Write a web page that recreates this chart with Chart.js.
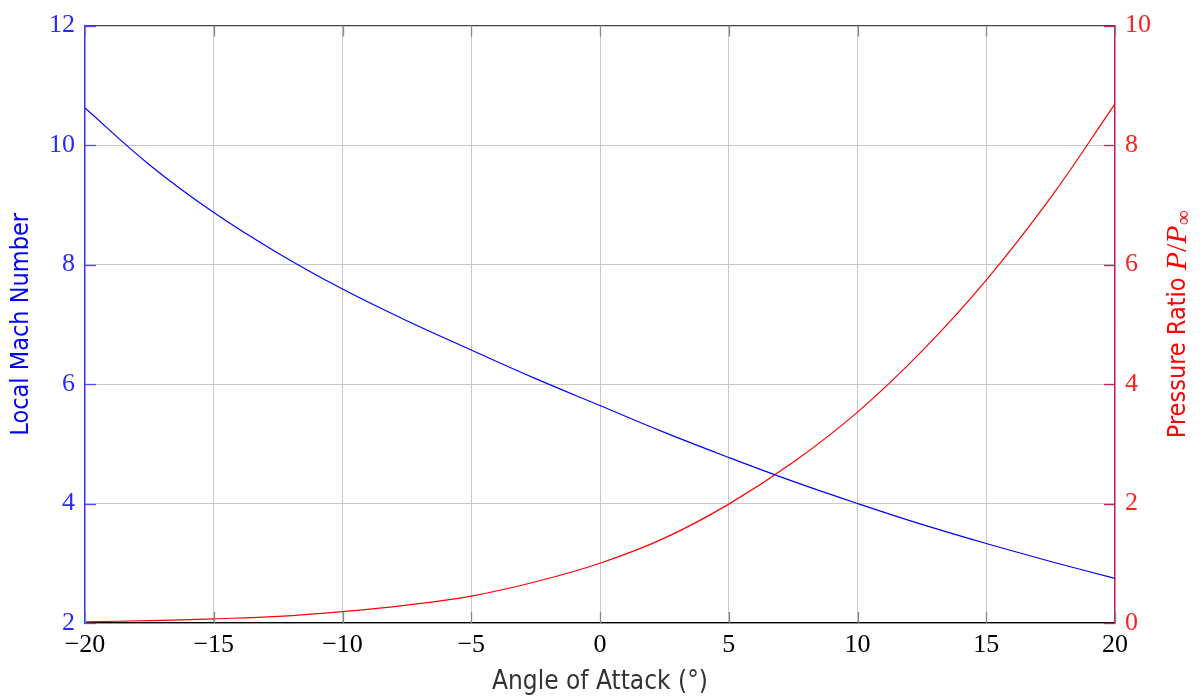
<!DOCTYPE html>
<html>
<head>
<meta charset="utf-8">
<script src="https://cdn.jsdelivr.net/npm/chart.js@4.4.1/dist/chart.umd.min.js"></script>
<style>
  html, body { margin: 0; padding: 0; background: #fff; }
</style>
</head>
<body>
<canvas id="machChart" width="1204" height="698"></canvas>
<script>
// angle of attack, degrees
var alpha = [-20, -17.5, -15, -12.5, -10, -7.5, -5, -2.5, 0, 2.5, 5, 7.5, 10, 12.5, 15, 17.5, 20];
// local Mach number (left axis)
var machLocal = [10.62, 9.67, 8.87, 8.19, 7.59, 7.06, 6.57, 6.09, 5.64, 5.19, 4.77, 4.37, 4.00, 3.65, 3.33, 3.03, 2.745];
// pressure ratio P/P_inf (right axis)
var pressureRatio = [0.02, 0.04, 0.07, 0.11, 0.19, 0.30, 0.45, 0.69, 1.00, 1.42, 1.99, 2.69, 3.53, 4.55, 5.74, 7.12, 8.69];

// tick values
var alphaTicks = [-20, -15, -10, -5, 0, 5, 10, 15, 20];
var machTicks = [2, 4, 6, 8, 10, 12];
var pressureTicks = [0, 2, 4, 6, 8, 10];

var BLUE = '#0000ff';
var RED = '#ff0000';
var sansFont = "'DejaVu Sans Condensed', 'DejaVu Sans', sans-serif";
var serifFont = "'Liberation Serif', 'DejaVu Serif', serif";

function pairs(xs, ys) {
  return xs.map(function (x, i) { return { x: x, y: ys[i] }; });
}
function fmt(v) {
  return v < 0 ? '\u2212' + Math.abs(v) : String(v);
}
function useTicks(values) {
  return function (scale) {
    scale.ticks = values.map(function (v) { return { value: v }; });
  };
}

// pgfplots-style tick marks pointing into the plot, plus the top frame line
var innerTicks = {
  id: 'innerTicks',
  afterDraw: function (chart) {
    var ctx = chart.ctx, a = chart.chartArea, s = chart.scales, len = 11;
    ctx.save();
    ctx.lineWidth = 1.3;

    ctx.strokeStyle = '#444';
    ctx.beginPath();
    ctx.moveTo(a.left, a.top);
    ctx.lineTo(a.right, a.top);
    ctx.stroke();

    ctx.strokeStyle = '#888';
    alphaTicks.forEach(function (v) {
      var x = Math.round(s.x.getPixelForValue(v)) + 0.5;
      ctx.beginPath();
      ctx.moveTo(x, a.bottom); ctx.lineTo(x, a.bottom - len);
      ctx.moveTo(x, a.top); ctx.lineTo(x, a.top + len);
      ctx.stroke();
    });

    ctx.strokeStyle = '#4a4aff';
    machTicks.forEach(function (v) {
      var y = Math.round(s.yMach.getPixelForValue(v)) + 0.5;
      ctx.beginPath();
      ctx.moveTo(a.left, y); ctx.lineTo(a.left + len, y);
      ctx.stroke();
    });

    ctx.strokeStyle = '#c8205a';
    pressureTicks.forEach(function (v) {
      var y = Math.round(s.yPress.getPixelForValue(v)) + 0.5;
      ctx.beginPath();
      ctx.moveTo(a.right, y); ctx.lineTo(a.right - len, y);
      ctx.stroke();
    });
    ctx.restore();
  }
};

// right axis title, read bottom to top, with the math part in serif
var pressureTitle = {
  id: 'pressureTitle',
  afterDraw: function (chart) {
    var ctx = chart.ctx, a = chart.chartArea;
    var parts = [
      { t: 'Pressure Ratio ', f: '25px ' + sansFont, dy: 0 },
      { t: 'P', f: 'italic 30px ' + serifFont, dy: 0 },
      { t: '/', f: '30px ' + serifFont, dy: 0 },
      { t: 'P', f: 'italic 30px ' + serifFont, dy: 0 },
      { t: '\u221E', f: '21px ' + serifFont, dy: 6 }
    ];
    ctx.save();
    var total = 0;
    parts.forEach(function (p) { ctx.font = p.f; p.w = ctx.measureText(p.t).width; total += p.w; });
    ctx.translate(1178, (a.top + a.bottom) / 2);
    ctx.rotate(-Math.PI / 2);
    ctx.fillStyle = RED;
    ctx.textBaseline = 'middle';
    var x = -total / 2;
    parts.forEach(function (p) {
      ctx.font = p.f;
      ctx.fillText(p.t, x, p.dy);
      x += p.w;
    });
    ctx.restore();
  }
};

new Chart(document.getElementById('machChart'), {
  type: 'line',
  data: {
    datasets: [{
      label: 'Local Mach Number',
      data: pairs(alpha, machLocal),
      yAxisID: 'yMach',
      borderColor: BLUE,
      borderWidth: 1.2,
      pointRadius: 0,
      tension: 0.4
    }, {
      label: 'Pressure Ratio',
      data: pairs(alpha, pressureRatio),
      yAxisID: 'yPress',
      borderColor: RED,
      borderWidth: 1.2,
      pointRadius: 0,
      tension: 0.4
    }]
  },
  options: {
    responsive: false,
    animation: false,
    layout: { padding: { top: 23, left: 0, right: 0, bottom: 0 } },
    plugins: { legend: { display: false }, tooltip: { enabled: false } },
    scales: {
      x: {
        type: 'linear',
        min: -20,
        max: 20,
        afterBuildTicks: useTicks(alphaTicks),
        afterFit: function (s) { s.height = 75; },
        grid: { color: '#c8c8c8', lineWidth: 1, drawTicks: false },
        border: { color: '#000', width: 1.3 },
        ticks: {
          color: '#000',
          padding: 7,
          maxRotation: 0,
          font: { family: serifFont, size: 26 },
          callback: fmt
        },
        title: {
          display: true,
          text: 'Angle of Attack (\u00B0)',
          color: '#333',
          padding: 0,
          font: { family: sansFont, size: 26 }
        }
      },
      yMach: {
        position: 'left',
        min: 2,
        max: 12,
        afterBuildTicks: useTicks(machTicks),
        afterFit: function (s) { s.width = 85; },
        grid: { color: '#c8c8c8', lineWidth: 1, drawTicks: false },
        border: { color: '#3030ff', width: 1.3 },
        ticks: {
          color: '#2a2aff',
          padding: 10,
          font: { family: serifFont, size: 26 },
          callback: fmt
        },
        title: {
          display: true,
          text: 'Local Mach Number',
          color: BLUE,
          padding: { top: 6, bottom: 0 },
          font: { family: sansFont, size: 25 }
        }
      },
      yPress: {
        position: 'right',
        min: 0,
        max: 10,
        afterBuildTicks: useTicks(pressureTicks),
        afterFit: function (s) { s.width = 89; },
        grid: { drawOnChartArea: false, drawTicks: false },
        border: { color: '#c8185a', width: 1.3 },
        ticks: {
          color: '#ff2020',
          padding: 10,
          font: { family: serifFont, size: 26 },
          callback: fmt
        }
      }
    }
  },
  plugins: [innerTicks, pressureTitle]
});
</script>
</body>
</html>
